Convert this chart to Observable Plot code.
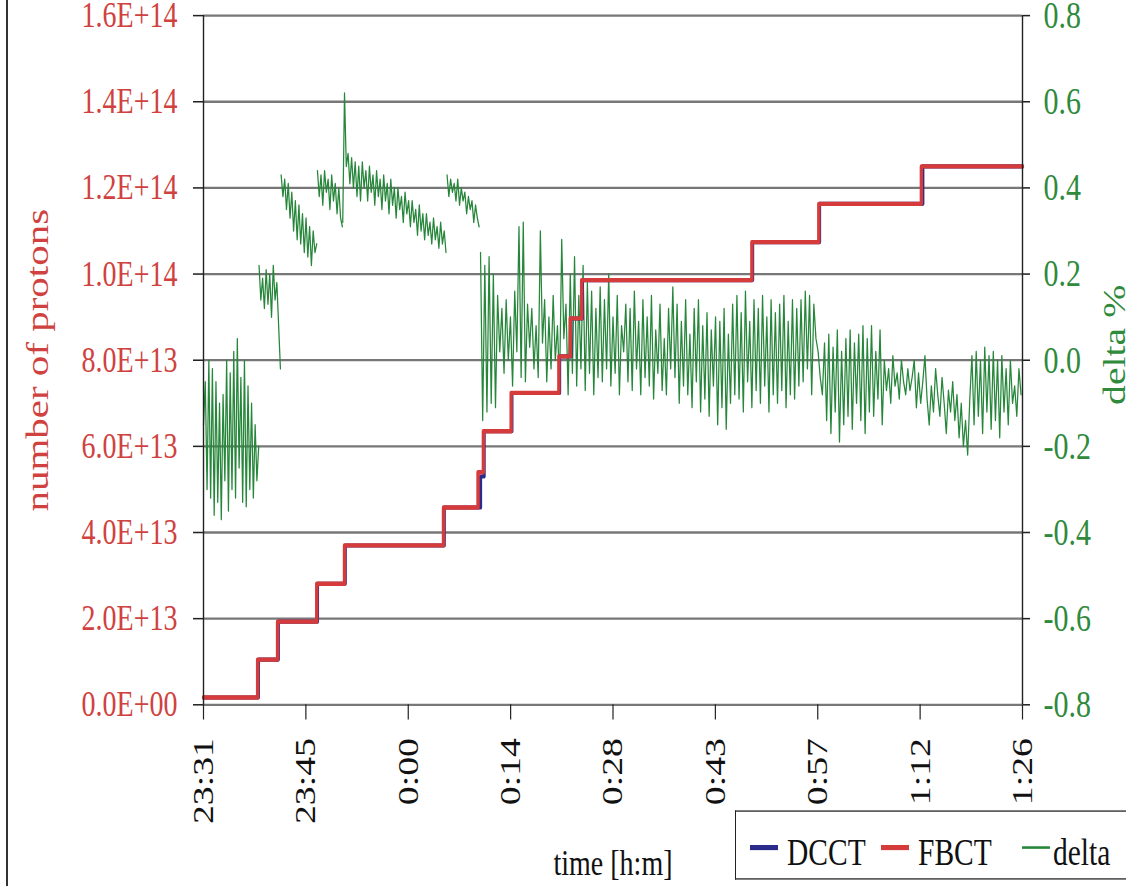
<!DOCTYPE html>
<html><head><meta charset="utf-8">
<script src="https://cdn.jsdelivr.net/npm/d3@7"></script>
<script src="https://cdn.jsdelivr.net/npm/@observablehq/plot@0.6"></script>
<style>
body{margin:0;background:#fff;}
#wrap{position:relative;width:1126px;height:886px;overflow:hidden;background:#fff;}
#inner{position:absolute;left:0;top:0;width:1126px;height:692px;transform:scaleY(1.2803);transform-origin:0 0;}
#frame{position:absolute;left:6px;top:0;width:1.5px;height:886px;background:#333;}
#legend{position:absolute;left:735px;top:633px;width:420px;height:54px;border:1.4px solid #222;border-right:none;background:#fff;box-sizing:border-box;}
.ln{position:absolute;height:3.2px;width:28px;}
.lt{position:absolute;font-family:"Liberation Serif","Times New Roman",serif;font-size:29.5px;line-height:29.5px;color:#111;white-space:nowrap;}
</style>
</head><body>
<div id="wrap"><div id="inner"><div id="chart"></div>
<div id="legend"></div></div><div id="frame"></div></div>
<script>
// ---- axis ticks ----
const xTickMinutes = [0, 14.375, 28.75, 43.125, 57.5, 71.875, 86.25, 100.625, 115];
const xTickLabels = ["23:31","23:45","0:00","0:14","0:28","0:43","0:57","1:12","1:26"];
const leftTickVals = [0, 2e13, 4e13, 6e13, 8e13, 1e14, 1.2e14, 1.4e14, 1.6e14];
const leftTickLabels = ["0.0E+00","2.0E+13","4.0E+13","6.0E+13","8.0E+13","1.0E+14","1.2E+14","1.4E+14","1.6E+14"];
const rightTickVals = [-0.8,-0.6,-0.4,-0.2,0,0.2,0.4,0.6,0.8];
const rightTickLabels = ["-0.8","-0.6","-0.4","-0.2","0.0","0.2","0.4","0.6","0.8"];

// ---- beam intensity steps (minutes after 23:31, protons in units of 1E13) ----
const fbctTimes  = [0, 7.6, 10.4, 15.9, 19.8, 33.7, 38.55, 39.3, 43.2, 49.9, 51.5, 53.1, 77.0, 86.4, 100.8, 115];
const fbctValues = [0.17, 1.05, 1.93, 2.81, 3.70, 4.58, 5.40, 6.35, 7.24, 8.09, 8.97, 9.86, 10.74, 11.63, 12.50, 12.50];
const dcctTimes  = [0, 7.7, 10.5, 16.0, 19.9, 33.8, 38.9, 39.4, 43.3, 50.0, 51.6, 53.2, 77.1, 86.5, 101.0, 115];
const dcctValues = [0.17, 1.05, 1.93, 2.81, 3.70, 4.58, 5.30, 6.35, 7.24, 8.09, 8.97, 9.86, 10.74, 11.63, 12.50, 12.50];

// ---- delta % (segments: start minute, sampling step, values) ----
const deltaStarts = [0, 7.8, 10.9, 16.0, 19.55, 34.2, 38.9];
const deltaSteps  = [0.25, 0.25, 0.25, 0.25, 0.25, 0.25, 0.3];
const deltaSeg1 = [-0.15,-0.05,-0.30,0.00,-0.32,-0.02,-0.36,-0.05,-0.33,-0.10,-0.37,-0.08,-0.28,0.00,-0.35,-0.03,-0.30,0.02,-0.32,0.05,-0.25,-0.04,-0.33,0.00,-0.34,-0.06,-0.30,-0.10,-0.32,-0.15,-0.28,-0.20];
const deltaSeg2 = [0.22,0.14,0.19,0.12,0.21,0.13,0.20,0.10,0.22,0.14,0.18,0.08,-0.02];
const deltaSeg3 = [0.43,0.38,0.42,0.35,0.41,0.33,0.39,0.30,0.37,0.28,0.36,0.27,0.34,0.25,0.33,0.24,0.31,0.22,0.30,0.25,0.27];
const deltaSeg4 = [0.44,0.38,0.43,0.36,0.44,0.39,0.42,0.35,0.43,0.37,0.41,0.34,0.40,0.33,0.31];
const deltaSeg5 = [0.32,0.62,0.45,0.48,0.41,0.47,0.40,0.46,0.38,0.45,
  0.37,0.46,0.40,0.44,0.37,0.45,0.39,0.43,0.36,0.44,
  0.38,0.42,0.35,0.43,0.37,0.41,0.34,0.42,0.36,0.40,
  0.33,0.40,0.35,0.38,0.32,0.39,0.34,0.37,0.31,0.37,
  0.32,0.35,0.29,0.36,0.30,0.34,0.28,0.34,0.29,0.32,
  0.27,0.33,0.28,0.31,0.26,0.32,0.27,0.30,0.25];
const deltaSeg6 = [0.43,0.38,0.42,0.39,0.41,0.37,0.42,0.36,0.40,0.37,0.39,0.34,0.38,0.35,0.37,0.32,0.36,0.33,0.31];
const deltaSeg7 = [
  0.25,-0.14,0.22,-0.12,0.24,-0.10,0.20,-0.11,0.15,0.02,
  0.12,-0.03,0.14,0.00,0.10,-0.06,0.16,0.02,0.31,-0.04,
  0.32,-0.05,0.13,0.03,0.12,-0.02,0.08,-0.04,0.30,0.04,
  0.14,-0.05,0.10,-0.02,0.15,0.00,0.08,-0.06,0.28,0.05,
  0.13,-0.08,0.20,-0.03,0.24,-0.06,0.15,-0.02,0.22,-0.07,
  0.18,-0.03,0.16,-0.08,0.12,-0.04,0.17,-0.05,0.14,-0.02,
  0.20,-0.06,0.10,-0.03,0.15,-0.08,0.08,0.02,0.13,-0.05,
  0.12,-0.07,0.16,-0.02,0.09,-0.08,0.14,-0.04,0.10,-0.06,
  0.15,-0.09,0.07,-0.03,0.13,-0.07,0.05,-0.08,0.12,-0.02,
  0.17,-0.04,0.13,-0.10,0.09,-0.06,0.14,-0.08,0.06,-0.11,
  0.12,-0.05,0.14,-0.12,0.08,-0.09,0.11,-0.13,0.07,-0.06,
  0.10,-0.15,0.09,-0.11,0.12,-0.16,0.06,-0.10,0.13,-0.08,
  0.15,-0.09,0.11,-0.12,0.16,-0.05,0.09,-0.11,0.14,-0.07,
  0.12,-0.10,0.15,-0.06,0.10,-0.12,0.14,-0.08,0.11,-0.10,
  0.13,-0.07,0.15,-0.11,0.09,-0.08,0.14,-0.09,0.12,-0.06,
  0.14,-0.05,0.16,-0.02,0.15,-0.08,0.13,0.05,0.02,-0.04,
  -0.08,0.04,-0.14,0.06,-0.17,0.03,-0.12,0.07,-0.19,0.02,
  -0.15,0.05,-0.13,0.07,-0.16,0.04,-0.10,0.06,-0.14,0.08,
  -0.17,0.05,-0.12,0.08,-0.13,0.02,-0.09,0.07,-0.15,0.00,
  -0.07,-0.02,-0.10,0.01,-0.06,-0.03,-0.09,0.00,-0.05,-0.08,
  -0.02,-0.07,-0.04,0.00,-0.11,-0.03,-0.10,-0.05,0.01,-0.09,
  -0.15,-0.06,-0.12,-0.02,-0.08,-0.13,-0.04,-0.10,-0.17,-0.07,
  -0.12,-0.05,-0.14,-0.08,-0.18,-0.10,-0.20,-0.14,-0.22,-0.09,
  0.01,-0.15,0.02,-0.13,0.00,-0.17,0.03,-0.12,0.01,-0.16,
  0.02,-0.14,0.00,-0.18,0.01,-0.12,-0.02,-0.15,0.00,-0.10,
  -0.06,-0.13,-0.02,-0.08];
const deltaSegments = [deltaSeg1, deltaSeg2, deltaSeg3, deltaSeg4, deltaSeg5, deltaSeg6, deltaSeg7];

// ---- colours ----
const RED = "#d63b3b", RED_TXT = "#d0423f", BLUE = "#2b2b8c", GREEN = "#26863a", GREEN_TXT = "#2f8a3c";

// ---- build tables ----
const fbctRows = fbctTimes.map((t, i) => ({t, v: fbctValues[i] * 1e13}));
const dcctRows = dcctTimes.map((t, i) => ({t, v: dcctValues[i] * 1e13}));
const deltaRows = [];
deltaSegments.forEach((vals, s) => vals.forEach((v, i) => deltaRows.push({seg: s, t: deltaStarts[s] + i * deltaSteps[s], v})));
const toLeft = d => (d + 0.8) * 1e14;        // delta % -> left-axis units
const rightTickPos = rightTickVals.map(toLeft);
const xLab = new Map(xTickMinutes.map((v, i) => [v, xTickLabels[i]]));
const lLab = new Map(leftTickVals.map((v, i) => [v, leftTickLabels[i]]));
const rLab = new Map(rightTickPos.map((v, i) => [v, rightTickLabels[i]]));

const chart = Plot.plot({
  width: 1126, height: 692,
  marginLeft: 203, marginRight: 104, marginTop: 11.7, marginBottom: 142,
  style: {fontFamily: '"Liberation Serif","Times New Roman",serif', background: "#fff", color: "#111"},
  x: {domain: [0, 115], label: null},
  y: {domain: [0, 1.6e14], label: null},
  marks: [
    Plot.ruleY(leftTickVals, {stroke: "#777", strokeWidth: 1.8}),
    Plot.line(deltaRows, {x: "t", y: d => toLeft(d.v), z: "seg", stroke: GREEN, strokeWidth: 1.25}),
    Plot.line(dcctRows, {x: "t", y: "v", curve: "step-after", stroke: BLUE, strokeWidth: 3.2}),
    Plot.line(fbctRows, {x: "t", y: "v", curve: "step-after", stroke: RED, strokeWidth: 3.4}),
    Plot.ruleX([0, 115], {stroke: "#222", strokeWidth: 1.4}),
    Plot.axisY({anchor: "left", ticks: leftTickVals, tickFormat: d => lLab.get(d), tickSize: 10, tickPadding: 16,
      fill: RED_TXT, stroke: "#222", strokeWidth: 1.2, fontSize: 28, label: null}),
    Plot.axisY({anchor: "right", ticks: rightTickPos, tickFormat: d => rLab.get(d), tickSize: 7, tickPadding: 14,
      fill: GREEN_TXT, stroke: "#222", strokeWidth: 1.2, fontSize: 30, label: null}),
    Plot.axisX({ticks: xTickMinutes, tickFormat: d => xLab.get(d), tickSize: 12, tickPadding: 14, tickRotate: -90,
      fill: "#111", stroke: "#222", strokeWidth: 1.2, fontSize: 29.5, label: null}),
    Plot.text(["number of protons"], {text: d => d, frameAnchor: "left", textAnchor: "middle", dx: -166, rotate: -90, fill: RED_TXT, fontSize: 32}),
    Plot.text(["delta %"], {text: d => d, frameAnchor: "right", textAnchor: "middle", dx: 93, dy: -12, rotate: -90, fill: GREEN_TXT, fontSize: 31}),
    Plot.text(["time [h:m]"], {text: d => d, frameAnchor: "bottom", dy: 133, lineAnchor: "bottom", fill: "#111", fontSize: 28})
  ]
});
document.getElementById("chart").appendChild(chart);

// ---- legend ----
const legendItems = [
  {name: "DCCT", color: BLUE, w: 3.2, lx: 14, tx: 51},
  {name: "FBCT", color: RED, w: 3.2, lx: 145, tx: 182},
  {name: "delta", color: GREEN, w: 1.3, lx: 286, tx: 317}
];
const lg = document.getElementById("legend");
for (const it of legendItems) {
  const l = document.createElement("span");
  l.className = "ln"; l.style.left = it.lx + "px"; l.style.top = (28 - it.w / 2) + "px";
  l.style.height = it.w + "px"; l.style.background = it.color;
  lg.appendChild(l);
  const t = document.createElement("span");
  t.className = "lt"; t.style.left = it.tx + "px"; t.style.top = "18px"; t.textContent = it.name;
  lg.appendChild(t);
}
</script>
</body></html>
